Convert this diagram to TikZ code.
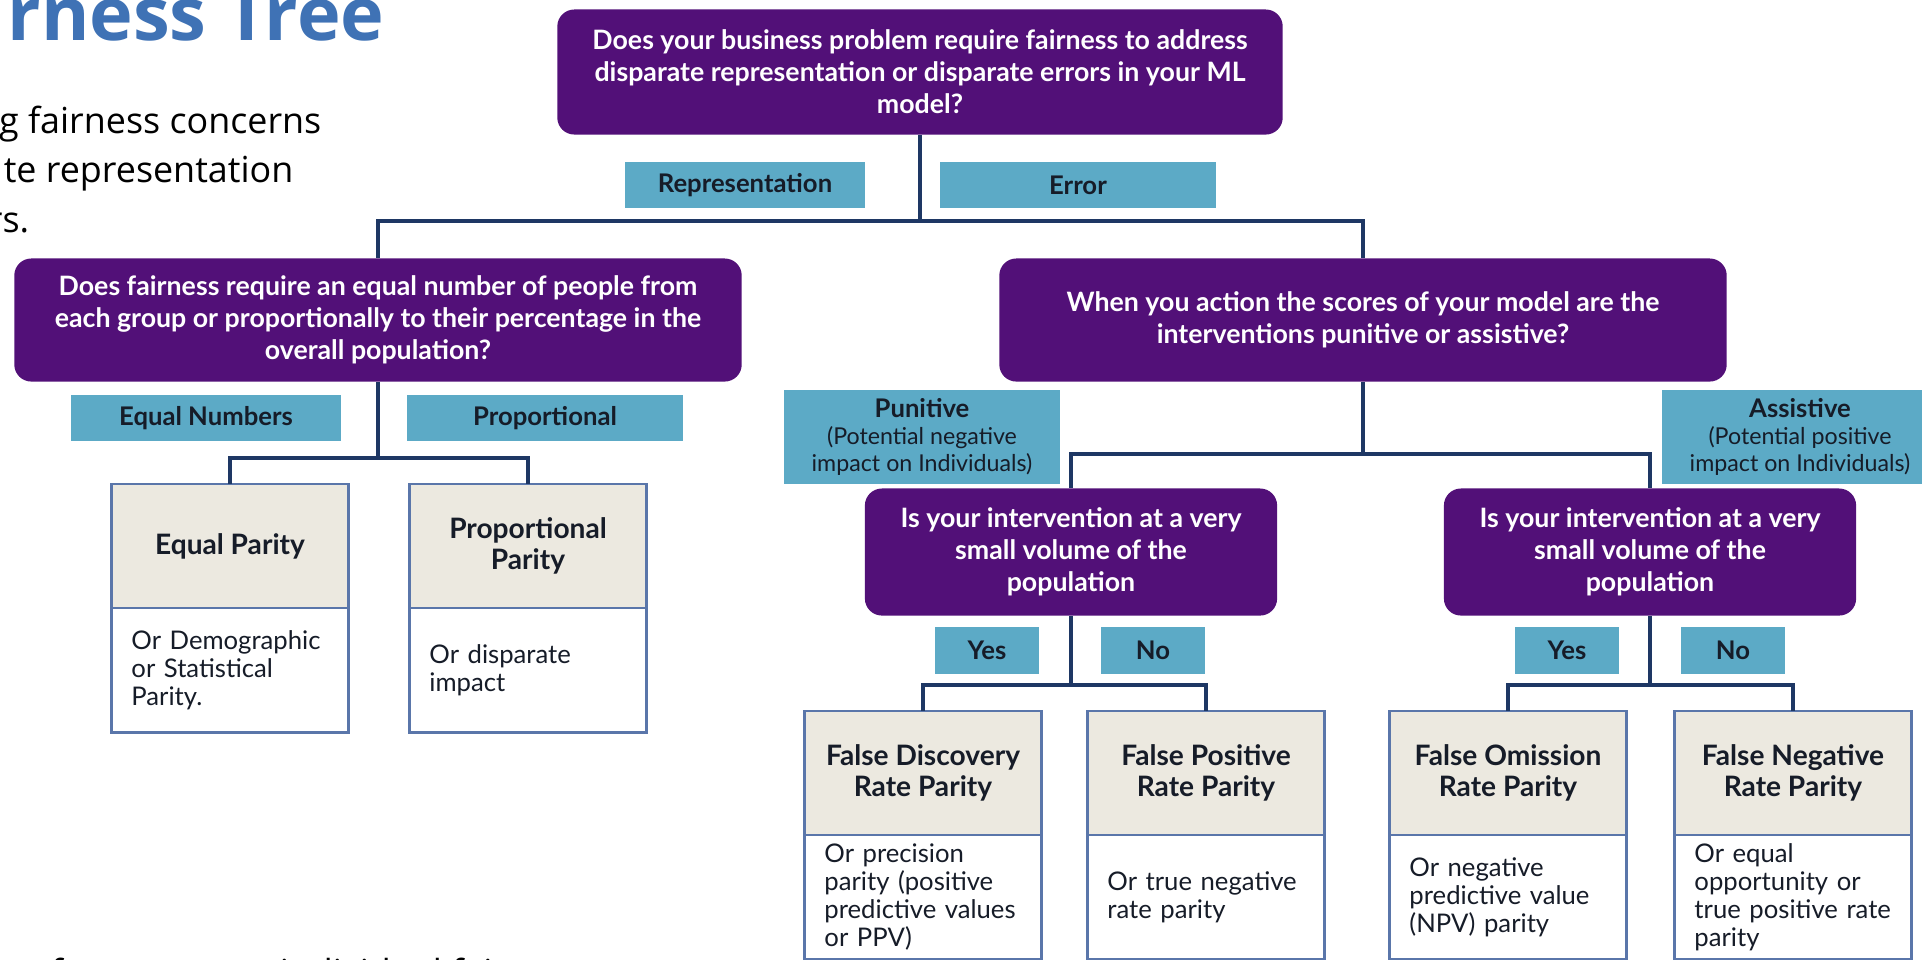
\documentclass[tikz,border=0pt]{standalone}
\usepackage{fontspec}
\setmainfont{Lato}
\newfontfamily\slidefont{Open Sans}
\usetikzlibrary{positioning}

\definecolor{quizpurple}{RGB}{82,16,120}
\definecolor{answerteal}{RGB}{92,170,198}
\definecolor{linknavy}{RGB}{30,55,100}
\definecolor{framegray}{RGB}{90,118,170}
\definecolor{headbeige}{RGB}{236,233,224}
\definecolor{titleblue}{RGB}{63,114,181}
\definecolor{inkdark}{RGB}{22,28,40}

\newcommand\quizfont{\fontsize{7.6}{9.1}\selectfont\bfseries}
\newcommand\tagfont{\fontsize{7.3}{8.4}\selectfont\bfseries}
\newcommand\hintfont{\fontsize{6.6}{7.7}\selectfont}
\newcommand\headfont{\fontsize{8}{8.8}\selectfont\bfseries}
\newcommand\notefont{\fontsize{7.3}{8}\selectfont}

\begin{document}
\begin{tikzpicture}[x=0.01cm,y=-0.01cm,node distance=0pt,
    question/.style={fill=quizpurple,text=white,rounded corners=0.17cm,align=center,font=\quizfont,inner sep=0pt},
    answer/.style={fill=answerteal,text=inkdark,align=center,font=\tagfont,inner sep=0pt,minimum height=0.46cm},
    parity/.style={draw=framegray,line width=0.8pt,fill=headbeige,text=inkdark,align=center,font=\headfont,
      minimum width=2.37cm,minimum height=1.24cm,inner sep=0pt,outer sep=0pt},
    note/.style={draw=framegray,line width=0.8pt,fill=white,text=inkdark,align=left,font=\notefont,
      text width=1.97cm,minimum height=1.24cm,inner xsep=0.2cm,inner ysep=0pt,outer sep=0pt},
    slide/.style={inner sep=0pt,font=\slidefont\fontsize{10.2}{12}\selectfont},
    link/.style={draw=linknavy,line width=1.2pt}]
  \useasboundingbox (0,0) rectangle (1922,959);
  \clip (0,0) rectangle (1922,959);

  % slide text cut by the screenshot
  \node[slide,anchor=base east,text=titleblue,font=\slidefont\fontsize{21}{25}\selectfont\bfseries] (title) at (385,40) {rness Tree};
  \node[slide,anchor=base east] (line1) at (322,133) {g fairness concerns};
  \node[slide,anchor=base east] (line2) at (294,182) {te representation};
  \node[slide,anchor=base east] (line3) at (30,232) {rs.};
  \node[slide,anchor=base west] (line4) at (50,985) {for groups or individual fairness};

  % questions
  \node[question,minimum width=7.25cm,minimum height=1.25cm] (q1) at (920,72)
    {Does your business problem require fairness to address\\disparate representation or disparate errors in your ML\\model?};
  \node[question,minimum width=7.27cm,minimum height=1.23cm] (q2) at (378,320)
    {Does fairness require an equal number of people from\\each group or proportionally to their percentage in the\\overall population?};
  \node[question,minimum width=7.27cm,minimum height=1.23cm] (q3) at (1363,320)
    {When you action the scores of your model are the\\interventions punitive or assistive?};
  \node[question,minimum width=4.12cm,minimum height=1.27cm] (q4) at (1071,552)
    {Is your intervention at a very\\small volume of the\\population};
  \node[question,minimum width=4.12cm,minimum height=1.27cm] (q5) at (1650,552)
    {Is your intervention at a very\\small volume of the\\population};

  % answers
  \node[answer,minimum width=2.40cm] (rep) at (745,185) {Representation};
  \node[answer,minimum width=2.75cm] (err) at (1078,185) {Error};
  \node[answer,minimum width=2.70cm] (eqn) at (206,418) {Equal Numbers};
  \node[answer,minimum width=2.75cm] (prop) at (545,418) {Proportional};
  \node[answer,minimum width=2.75cm,minimum height=0.94cm,font=\hintfont] (pun) at (922,437)
    {{\tagfont Punitive}\\(Potential negative\\impact on Individuals)};
  \node[answer,minimum width=2.75cm,minimum height=0.94cm,font=\hintfont] (asst) at (1800,437)
    {{\tagfont Assistive}\\(Potential positive\\impact on Individuals)};
  \node[answer,minimum width=1.04cm,minimum height=0.47cm] (yes1) at (987,650) {Yes};
  \node[answer,minimum width=1.04cm,minimum height=0.47cm] (no1) at (1153,650) {No};
  \node[answer,minimum width=1.04cm,minimum height=0.47cm] (yes2) at (1567,650) {Yes};
  \node[answer,minimum width=1.04cm,minimum height=0.47cm] (no2) at (1733,650) {No};

  % parity metrics
  \node[parity] (ep) at (230,546) {Equal Parity};
  \node[note,below=of ep] (ep-note) {Or Demographic\\or Statistical\\Parity.};
  \node[parity] (pp) at (528,546) {Proportional\\Parity};
  \node[note,below=of pp] (pp-note) {Or disparate\\impact};
  \node[parity] (fdr) at (923,773) {False Discovery\\Rate Parity};
  \node[note,below=of fdr] (fdr-note) {Or precision\\parity (positive\\predictive values\\or PPV)};
  \node[parity] (fpr) at (1206,773) {False Positive\\Rate Parity};
  \node[note,below=of fpr] (fpr-note) {Or true negative\\rate parity};
  \node[parity] (for) at (1508,773) {False Omission\\Rate Parity};
  \node[note,below=of for] (for-note) {Or negative\\predictive value\\(NPV) parity};
  \node[parity] (fnr) at (1793,773) {False Negative\\Rate Parity};
  \node[note,below=of fnr] (fnr-note) {Or equal\\opportunity or\\true positive rate\\parity};

  % tree links
  \draw[link] (q1.south) -- ++(0,86) coordinate (q1fork) -| (q2.north) (q1fork) -| (q3.north);
  \draw[link] (q2.south) -- ++(0,76) coordinate (q2fork) -| (ep.north) (q2fork) -| (pp.north);
  \draw[link] (q3.south) -- ++(0,72) coordinate (q3fork) -| (q4.north) (q3fork) -| (q5.north);
  \draw[link] (q4.south) -- ++(0,69) coordinate (q4fork) -| (fdr.north) (q4fork) -| (fpr.north);
  \draw[link] (q5.south) -- ++(0,69) coordinate (q5fork) -| (for.north) (q5fork) -| (fnr.north);
\end{tikzpicture}
\end{document}
